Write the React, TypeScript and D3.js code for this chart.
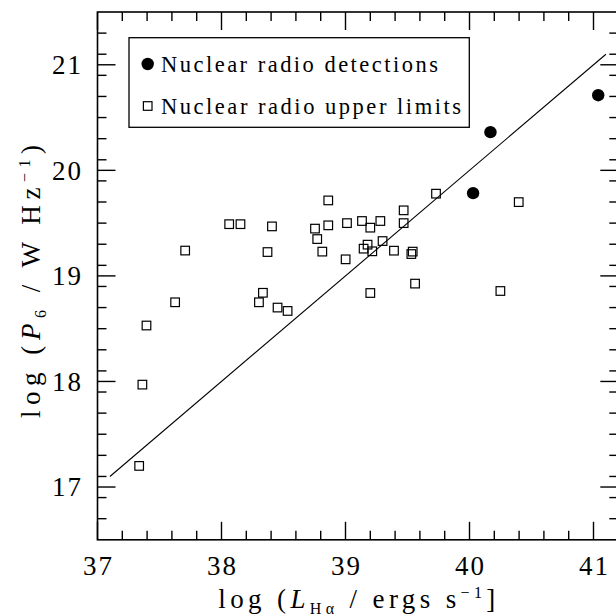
import React from "react";
import * as d3 from "d3";

const upperX = [37.336, 37.362, 37.395, 37.626, 37.707, 38.062, 38.153, 38.302, 38.334, 38.371, 38.407, 38.452, 38.533, 38.754, 38.772, 38.813, 38.861, 38.861, 39.001, 39.012, 39.133, 39.146, 39.178, 39.2, 39.2, 39.216, 39.281, 39.299, 39.391, 39.469, 39.469, 39.531, 39.542, 39.561, 39.73, 40.249, 40.397];
const upperY = [17.2, 17.97, 18.53, 18.75, 19.24, 19.49, 19.49, 18.75, 18.84, 19.226, 19.469, 18.7, 18.668, 19.448, 19.349, 19.23, 19.715, 19.479, 19.157, 19.5, 19.52, 19.258, 19.296, 19.457, 18.838, 19.233, 19.52, 19.33, 19.239, 19.621, 19.5, 19.207, 19.23, 18.927, 19.779, 18.857, 19.699];
const detX = [40.029, 40.169, 41.038];
const detY = [19.784, 20.362, 20.712];
const fitX = [37.1, 41.1];
const fitY = [17.1, 21.1];
const xMajor = [37, 38, 39, 40, 41];
const yMajor = [17, 18, 19, 20, 21];
const legendLabels = ["Nuclear radio detections", "Nuclear radio upper limits"];

const FONT = "'Liberation Serif', 'DejaVu Serif', serif";

export default function App() {
  const left = 97.5, right = 618.3, top = 12, bottom = 539.8;
  const x = d3.scaleLinear().domain([37, 41.2]).range([left, right]);
  const y = d3.scaleLinear().domain([16.5, 21.5]).range([bottom, top]);
  const xMinor = d3.range(0, 22).map((i) => +(37 + i * 0.2).toFixed(2)).filter((v) => !xMajor.includes(v) && v < 41.2);
  const yMinor = d3.range(0, 26).map((i) => +(16.5 + i * 0.2).toFixed(2)).filter((v) => !yMajor.includes(v) && v > 16.5 && v < 21.5);
  const line = d3.line<number>().x((d) => x(fitX[d])).y((d) => y(fitY[d]));
  const maj = 18, min = 9;
  const sq = 8.6;
  const tickStyle = { stroke: "#000", strokeWidth: 1.4 };

  return (
    <svg width={616} height={616} style={{ position: "absolute", left: 0, top: 0, background: "#fff" }} fontFamily={FONT}>
      <rect x={0} y={0} width={616} height={616} fill="#fff" />
      {xMajor.map((v) => (
        <g key={"xM" + v}>
          <line x1={x(v)} x2={x(v)} y1={bottom} y2={bottom - maj} {...tickStyle} />
          <line x1={x(v)} x2={x(v)} y1={top} y2={top + maj} {...tickStyle} />
        </g>
      ))}
      {xMinor.map((v) => (
        <g key={"xm" + v}>
          <line x1={x(v)} x2={x(v)} y1={bottom} y2={bottom - min} {...tickStyle} />
          <line x1={x(v)} x2={x(v)} y1={top} y2={top + min} {...tickStyle} />
        </g>
      ))}
      {yMajor.map((v) => (
        <g key={"yM" + v}>
          <line x1={left} x2={left + maj} y1={y(v)} y2={y(v)} {...tickStyle} />
          <line x1={right} x2={right - maj} y1={y(v)} y2={y(v)} {...tickStyle} />
        </g>
      ))}
      {yMinor.map((v) => (
        <g key={"ym" + v}>
          <line x1={left} x2={left + min} y1={y(v)} y2={y(v)} {...tickStyle} />
          <line x1={right} x2={right - min} y1={y(v)} y2={y(v)} {...tickStyle} />
        </g>
      ))}
      <rect x={left} y={top} width={right - left} height={bottom - top} fill="none" stroke="#000" strokeWidth={1.6} />
      {xMajor.map((v) => (
        <text key={"xl" + v} x={x(v)} y={575} textAnchor="middle" fontSize={27} textLength={29} lengthAdjust="spacing">{v}</text>
      ))}
      {yMajor.map((v) => (
        <text key={"yl" + v} x={81} y={y(v) + 9.2} textAnchor="end" fontSize={27} textLength={29} lengthAdjust="spacing">{v}</text>
      ))}
      <path d={line([0, 1]) || ""} fill="none" stroke="#000" strokeWidth={1.1} />
      {upperX.map((v, i) => (
        <rect key={"u" + i} x={x(v) - sq / 2} y={y(upperY[i]) - sq / 2} width={sq} height={sq} fill="none" stroke="#000" strokeWidth={1.2} />
      ))}
      {detX.map((v, i) => (
        <circle key={"d" + i} cx={x(v)} cy={y(detY[i])} r={6.2} fill="#000" />
      ))}
      <rect x={129} y={37.7} width={340.3} height={89.6} fill="#fff" stroke="#000" strokeWidth={1.3} />
      <circle cx={147.7} cy={64} r={6.2} fill="#000" />
      <text x={161} y={71.8} fontSize={22.5} textLength={277} lengthAdjust="spacing">{legendLabels[0]}</text>
      <rect x={147.7 - sq / 2} y={106 - sq / 2} width={sq} height={sq} fill="none" stroke="#000" strokeWidth={1.2} />
      <text x={161} y={113.8} fontSize={22.5} textLength={300} lengthAdjust="spacing">{legendLabels[1]}</text>
      <text x={218.3} y={608} fontSize={27} textLength={277} lengthAdjust="spacing">
        log (<tspan fontStyle="italic">L</tspan>
        <tspan fontSize={16} dy={6}>Hα</tspan>
        <tspan dy={-6}> / ergs s</tspan>
        <tspan fontSize={16} dy={-10}>−1</tspan>
        <tspan dy={10}>]</tspan>
      </text>
      <text transform="translate(39.5,418) rotate(-90)" fontSize={27} textLength={273} lengthAdjust="spacing">
        log (<tspan fontStyle="italic">P</tspan>
        <tspan fontSize={16} dy={6}>6</tspan>
        <tspan dy={-6}> / W Hz</tspan>
        <tspan fontSize={16} dy={-10}>−1</tspan>
        <tspan dy={10}>)</tspan>
      </text>
    </svg>
  );
}
